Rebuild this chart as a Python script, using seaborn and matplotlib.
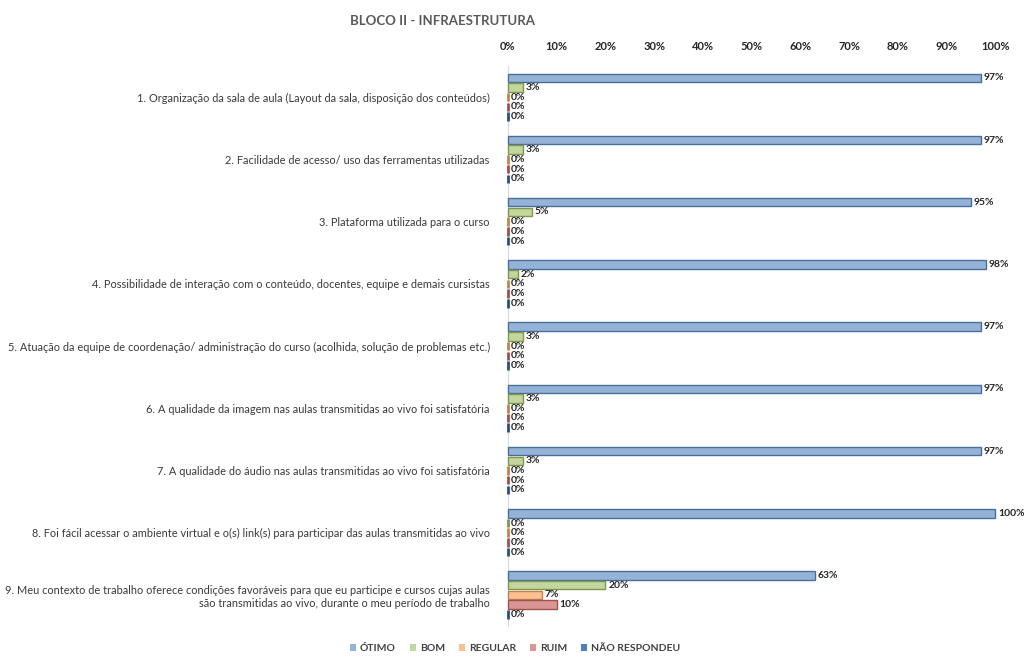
import pandas as pd
import matplotlib.pyplot as plt
import seaborn as sns

categories = [
    "1. Organização da sala de aula (Layout da sala, disposição dos conteúdos)",
    "2. Facilidade de acesso/ uso das ferramentas utilizadas",
    "3. Plataforma utilizada para o curso",
    "4. Possibilidade de interação com o conteúdo, docentes, equipe e demais cursistas",
    "5. Atuação da equipe de coordenação/ administração do curso (acolhida, solução de problemas etc.)",
    "6. A qualidade da imagem nas aulas transmitidas ao vivo foi satisfatória",
    "7. A qualidade do áudio nas aulas transmitidas ao vivo foi satisfatória",
    "8. Foi fácil acessar o ambiente virtual e o(s) link(s) para participar das aulas transmitidas ao vivo",
    "9. Meu contexto de trabalho oferece condições favoráveis para que eu participe e cursos cujas aulas\nsão transmitidas ao vivo, durante o meu período de trabalho",
]
responses = ["ÓTIMO", "BOM", "REGULAR", "RUIM", "NÃO RESPONDEU"]
otimo = [97, 97, 95, 98, 97, 97, 97, 100, 63]
bom = [3, 3, 5, 2, 3, 3, 3, 0, 20]
regular = [0, 0, 0, 0, 0, 0, 0, 0, 7]
ruim = [0, 0, 0, 0, 0, 0, 0, 0, 10]
nao_respondeu = [0, 0, 0, 0, 0, 0, 0, 0, 0]

colors = ["#95B3D7", "#C3D69B", "#FAC090", "#D99694", "#4F81BD"]
edges = ["#4A6E9C", "#7E9650", "#C0844E", "#A0504E", "#2B4F7E"]


def main():
    series = [otimo, bom, regular, ruim, nao_respondeu]
    rows = []
    for resp, vals in zip(responses, series):
        for cat, v in zip(categories, vals):
            rows.append({"Item": cat, "Resposta": resp, "Valor": v})
    df = pd.DataFrame(rows)

    sns.set_style("white")
    plt.rcParams["font.family"] = ["Lato", "DejaVu Sans"]

    fig = plt.figure(figsize=(10.24, 6.65), dpi=100)
    ax = fig.add_axes([0.496, 0.0586, 0.476, 0.842])

    sns.barplot(
        data=df, x="Valor", y="Item", hue="Resposta",
        hue_order=responses, palette=colors, saturation=1, orient="h",
        width=0.78, gap=0.12, ax=ax, legend=False,
    )

    for i, container in enumerate(ax.containers):
        for bar in container:
            bar.set_edgecolor(edges[i])
            bar.set_linewidth(1.0 if bar.get_width() > 0 else 2.0)
            bar.set_clip_on(False)
            bar.set_zorder(3)
        ax.bar_label(container, labels=[f"{v:.0f}%" for v in container.datavalues],
                     padding=2, fontsize=7.5, fontweight="bold", color="#262626")

    ax.set_xlim(0, 100)
    ax.set_ylim(8.5, -0.5)
    ax.set_xticks(range(0, 101, 10))
    ax.set_xticklabels([f"{t}%" for t in range(0, 101, 10)])
    ax.xaxis.tick_top()
    ax.tick_params(axis="x", length=0, labelsize=8, pad=10)
    for lbl in ax.get_xticklabels():
        lbl.set_fontweight("bold")
        lbl.set_color("#262626")
    ax.tick_params(axis="y", length=0, labelsize=7.9, pad=13, colors="#3A3A3A")
    for lbl in ax.get_yticklabels():
        lbl.set_horizontalalignment("right")
    ax.set_xlabel("")
    ax.set_ylabel("")
    for side in ["top", "right", "bottom"]:
        ax.spines[side].set_visible(False)
    ax.spines["left"].set_color("#D9D9D9")

    fig.text(0.342, 0.968, "BLOCO II - INFRAESTRUTURA", fontsize=9.5,
             fontweight="bold", color="#595959", va="center")

    handles = [plt.Rectangle((0, 0), 1, 1, facecolor=c, edgecolor="none") for c in colors]
    fig.legend(handles, responses, loc="center", bbox_to_anchor=(0.503, 0.025),
               ncol=5, frameon=False, handlelength=0.6,
               handleheight=0.6, columnspacing=1.3, handletextpad=0.4,
               labelcolor="#404040", prop={"weight": "bold", "size": 7.5})

    fig.savefig("out.png", dpi=100)
    plt.close(fig)


if __name__ == "__main__":
    main()
